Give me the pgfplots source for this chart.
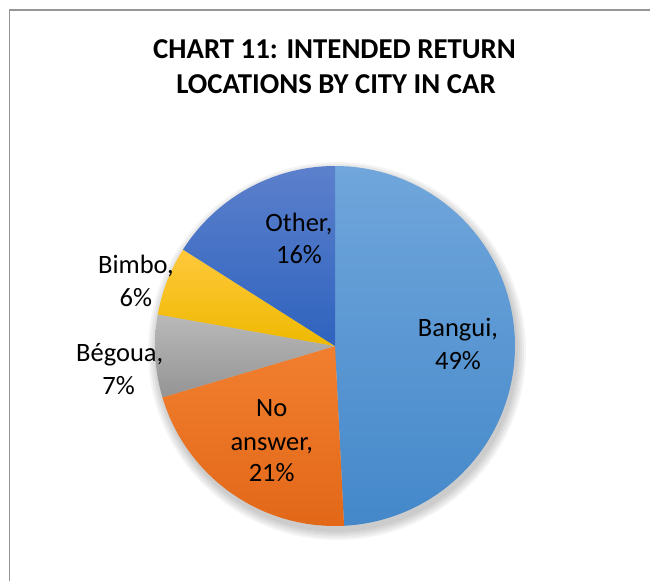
\documentclass[border=0pt]{standalone}
\usepackage{pgfplots}
\pgfplotsset{compat=1.18}
\usepackage{pgfplotstable}
\usepackage{fontspec}
\setmainfont{Carlito}

\definecolor{bangT}{RGB}{112,166,219}
\definecolor{bangB}{RGB}{68,136,202}
\definecolor{noT}{RGB}{241,127,47}
\definecolor{noB}{RGB}{226,104,24}
\definecolor{begT}{RGB}{185,185,185}
\definecolor{begB}{RGB}{148,148,148}
\definecolor{bimT}{RGB}{255,200,60}
\definecolor{bimB}{RGB}{238,185,0}
\definecolor{othT}{RGB}{92,128,204}
\definecolor{othB}{RGB}{47,99,190}
\definecolor{framec}{RGB}{150,150,150}

% slice shares in percent (clockwise from 12 o'clock)
\pgfplotstableread{
slice value
1 49.2
2 21.2
3 7.4
4 6.2
5 16.0
}\piedata

\begin{document}%
\begin{tikzpicture}
\pgfplotstablegetelem{0}{value}\of\piedata \let\vA\pgfplotsretval
\pgfplotstablegetelem{1}{value}\of\piedata \let\vB\pgfplotsretval
\pgfplotstablegetelem{2}{value}\of\piedata \let\vC\pgfplotsretval
\pgfplotstablegetelem{3}{value}\of\piedata \let\vD\pgfplotsretval
\pgfplotstablegetelem{4}{value}\of\piedata \let\vE\pgfplotsretval
\pgfmathsetmacro\aA{90}
\pgfmathsetmacro\aB{\aA-3.6*\vA}
\pgfmathsetmacro\aC{\aB-3.6*\vB}
\pgfmathsetmacro\aD{\aC-3.6*\vC}
\pgfmathsetmacro\aE{\aD-3.6*\vD}
\pgfmathsetmacro\aF{\aE-3.6*\vE}
\useasboundingbox (0,0) rectangle (650pt,581pt);
\begin{axis}[
  at={(0,0)}, anchor=origin,
  scale only axis, width=650pt, height=581pt,
  xmin=0, xmax=650, ymin=0, ymax=581,
  hide axis, clip=false,
]
% frame
\draw[framec, line width=1.2pt] (axis cs:9.3,0) -- (axis cs:9.3,571) -- (axis cs:650,571);
% soft shadow
\pgfplotsinvokeforeach{181,183,185,187,189}{
  \addplot[draw=none, fill=black, fill opacity=0.045, domain=0:360, samples=120]
    ({337+#1*cos(x)},{230+#1*sin(x)}) -- cycle;
}
% slices
\addplot[draw=none, top color=bangT, bottom color=bangB, domain=\aB:\aA, samples=90]
  ({335+180*cos(x)},{235+180*sin(x)}) -- (axis cs:335,235) -- cycle;
\addplot[draw=none, top color=noT, bottom color=noB, domain=\aC:\aB, samples=60]
  ({335+180*cos(x)},{235+180*sin(x)}) -- (axis cs:335,235) -- cycle;
\addplot[draw=none, top color=begT, bottom color=begB, domain=\aD:\aC, samples=30]
  ({335+180*cos(x)},{235+180*sin(x)}) -- (axis cs:335,235) -- cycle;
\addplot[draw=none, top color=bimT, bottom color=bimB, domain=\aE:\aD, samples=30]
  ({335+180*cos(x)},{235+180*sin(x)}) -- (axis cs:335,235) -- cycle;
\addplot[draw=none, top color=othT, bottom color=othB, domain=\aF:\aE, samples=60]
  ({335+180*cos(x)},{235+180*sin(x)}) -- (axis cs:335,235) -- cycle;
% title
\node[anchor=base, font=\fontsize{28.8}{34}\selectfont\bfseries] at (axis cs:334.5,522.7) {CHART 11: INTENDED RETURN};
\node[anchor=base, font=\fontsize{28.8}{34}\selectfont\bfseries] at (axis cs:336,487.7) {LOCATIONS BY CITY IN CAR};
% labels
\tikzset{lab/.style={anchor=base, inner sep=0pt, font=\fontsize{26.5}{30}\selectfont}}
\node[lab] at (axis cs:458,244.3) {Bangui,};
\node[lab] at (axis cs:458,211.7) {49\%};
\node[lab] at (axis cs:271.7,164.3) {No};
\node[lab] at (axis cs:271.7,131) {answer,};
\node[lab] at (axis cs:271.7,99.3) {21\%};
\node[lab] at (axis cs:119.7,219.3) {Bégoua,};
\node[lab] at (axis cs:118.5,186.7) {7\%};
\node[lab] at (axis cs:136,307.7) {Bimbo,};
\node[lab] at (axis cs:135.8,274.3) {6\%};
\node[lab] at (axis cs:299,349.3) {Other,};
\node[lab] at (axis cs:299,317.7) {16\%};
\end{axis}
\end{tikzpicture}%
\end{document}
